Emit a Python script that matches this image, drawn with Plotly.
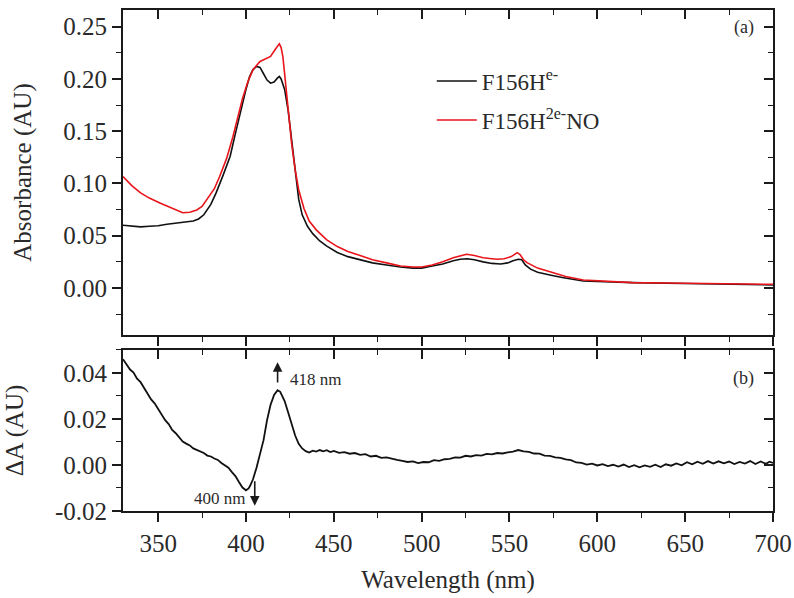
import plotly.graph_objects as go

# ---- Panel (a): absorbance spectra ----
wl_fe = [330, 335, 340, 345, 350, 355, 360, 365, 370, 373, 376, 380, 383, 387, 391, 394, 397, 400,
         402, 404, 406, 408, 410, 412, 414, 416, 418, 419, 420, 422, 424, 426, 428, 430, 432, 435,
         438, 442, 446, 452, 458, 465, 472, 480, 488, 495, 500, 506, 512, 518, 522, 526, 530, 535,
         540, 545, 549, 552, 555, 557, 559, 562, 566, 573, 580, 592, 605, 620, 640, 660, 680, 700]
abs_fe = [0.060, 0.0595, 0.0585, 0.059, 0.0595, 0.061, 0.062, 0.063, 0.064, 0.066, 0.070, 0.080,
          0.091, 0.108, 0.126, 0.148, 0.170, 0.190, 0.202, 0.209, 0.212, 0.211, 0.205, 0.199, 0.196,
          0.197, 0.201, 0.2024, 0.200, 0.190, 0.170, 0.140, 0.110, 0.085, 0.070, 0.059, 0.052, 0.045,
          0.040, 0.034, 0.030, 0.027, 0.024, 0.022, 0.020, 0.019, 0.019, 0.021, 0.023, 0.026, 0.0275,
          0.028, 0.027, 0.025, 0.0235, 0.023, 0.024, 0.026, 0.0275, 0.027, 0.022, 0.018, 0.015,
          0.0125, 0.010, 0.0067, 0.0058, 0.0051, 0.0045, 0.004, 0.0035, 0.003]

wl_no = [330, 335, 340, 345, 351, 357, 364, 368, 372, 375, 378, 382, 385, 389, 392.6, 395, 398, 401,
         404, 408, 411, 414, 416.5, 419, 420, 421, 422, 424, 426, 428, 430, 433, 436, 440, 446, 452,
         458, 465, 472, 480, 488, 495, 500, 506, 512, 518, 522, 525.6, 530, 535, 540, 543, 547, 551,
         554.4, 556, 558, 560, 566, 573, 582, 592, 605, 620, 640, 660, 680, 700]
abs_no = [0.1066, 0.098, 0.091, 0.086, 0.0814, 0.077, 0.072, 0.0725, 0.0747, 0.078, 0.085, 0.095,
          0.1066, 0.124, 0.145, 0.162, 0.181, 0.197, 0.209, 0.2167, 0.219, 0.2215, 0.228, 0.2337,
          0.230, 0.2215, 0.205, 0.168, 0.138, 0.113, 0.094, 0.076, 0.064, 0.0556, 0.046, 0.0396,
          0.035, 0.031, 0.027, 0.024, 0.021, 0.020, 0.020, 0.022, 0.025, 0.029, 0.031, 0.0323, 0.031,
          0.029, 0.028, 0.0275, 0.028, 0.030, 0.0338, 0.032, 0.027, 0.0242, 0.019, 0.0156, 0.011,
          0.0077, 0.0062, 0.0051, 0.0048, 0.0044, 0.004, 0.0035]

# ---- Panel (b): difference spectrum ----
wl_diff = [330, 332, 334, 336, 338, 340, 342, 344, 346, 348, 350, 352, 354, 356, 358, 360, 362, 364,
           366, 368, 370, 372, 374, 376, 378, 380, 382, 384, 386, 388, 390, 392, 394, 396, 398, 400,
           401.5, 402.5, 404, 406, 408, 410, 412, 414, 416, 418, 419.5, 420.5, 422, 423.5, 425, 426.5,
           428, 430, 432, 434, 436, 438, 440, 442, 444, 446, 448, 450, 453, 456, 459, 462, 465, 468,
           471, 474, 477, 480, 483, 486, 489, 492, 495, 498, 501, 504, 507, 510, 513, 516, 519, 522,
           525, 528, 531, 534, 537, 540, 543, 546, 549, 552, 555, 558, 561, 564, 567, 570, 573, 576,
           579, 582, 585, 588, 591, 594, 597, 600, 603, 606, 609, 612, 615, 618, 621, 624, 627, 630,
           633, 636, 639, 642, 645, 648, 651, 654, 657, 660, 663, 666, 669, 672, 675, 678, 681, 684,
           687, 690, 693, 696, 698, 700]
delta_a = [0.046, 0.044, 0.0415, 0.0402, 0.0375, 0.036, 0.0335, 0.031, 0.0285, 0.0268, 0.0245,
           0.0222, 0.0195, 0.0178, 0.0152, 0.0138, 0.0118, 0.0102, 0.0093, 0.0085, 0.0072, 0.0066,
           0.0058, 0.0052, 0.0041, 0.0037, 0.0028, 0.0022, 0.0009, -0.0002, -0.0012, -0.0031,
           -0.0048, -0.0074, -0.0098, -0.011, -0.0102, -0.0088, -0.0062, -0.0012, 0.0048, 0.0108,
           0.0195, 0.0262, 0.0305, 0.0325, 0.0318, 0.0302, 0.0278, 0.0241, 0.0205, 0.0170, 0.0128,
           0.0092, 0.0072, 0.0060, 0.0054, 0.0062, 0.0058, 0.0065, 0.0059, 0.0064, 0.0056, 0.0061,
           0.0053, 0.0056, 0.0049, 0.0052, 0.0044, 0.0047, 0.0037, 0.0040, 0.0031, 0.0033, 0.0026,
           0.0022, 0.0018, 0.0013, 0.0016, 0.0008, 0.0013, 0.0012, 0.0021, 0.0018, 0.0025, 0.0027,
           0.0033, 0.0032, 0.0040, 0.0037, 0.0043, 0.0041, 0.0048, 0.0046, 0.0052, 0.0050, 0.0055,
           0.0058, 0.0065, 0.0059, 0.0057, 0.0050, 0.0049, 0.0041, 0.0040, 0.0033, 0.0031, 0.0024,
           0.0021, 0.0011, 0.0009, 0.0002, 0.0006, -0.0002, 0.0004, -0.0005, 0.0001, -0.0007,
           0.0002, -0.0009, -0.0001, -0.0010, -0.0002, -0.0008, 0.0001, -0.0009, 0.0003, -0.0003,
           0.0007, -0.0001, 0.0012, 0.0003, 0.0014, 0.0005, 0.0017, 0.0006, 0.0016, 0.0007, 0.0015,
           0.0004, 0.0013, 0.0006, 0.0017, 0.0004, 0.0015, 0.0005, 0.0014, 0.0009]

series_names = ["F156H<sup>e-</sup>", "F156H<sup>2e-</sup>NO"]
series_colors = ["#111111", "#e8151b"]

x_range = [330, 700]
x_ticks = [350, 400, 450, 500, 550, 600, 650, 700]
y_top_range = [-0.045, 0.266]
y_top_ticks = [0.00, 0.05, 0.10, 0.15, 0.20, 0.25]
y_bot_range = [-0.02, 0.05]
y_bot_ticks = [-0.02, 0.00, 0.02, 0.04]

peak_up_nm = 418
peak_down_nm = 400

FONT = "Liberation Serif"
TXT = "#2a2a2a"
LINE = "#1a1a1a"


def fmt(v):
    # plain hyphen for negative labels
    return f"{v:.2f}".replace("\u2212", "-")


fig = go.Figure()

fig.add_trace(go.Scatter(x=wl_fe, y=abs_fe, mode="lines", name=series_names[0],
                         legendgroup="a", line=dict(color=series_colors[0], width=1.6),
                         xaxis="x", yaxis="y"))
fig.add_trace(go.Scatter(x=wl_no, y=abs_no, mode="lines", name=series_names[1],
                         legendgroup="b", line=dict(color=series_colors[1], width=1.6),
                         xaxis="x", yaxis="y"))
fig.add_trace(go.Scatter(x=wl_diff, y=delta_a, mode="lines", showlegend=False,
                         line=dict(color="#111111", width=1.8), xaxis="x2", yaxis="y2"))
# empty traces so the inward-tick companion axes get drawn
fig.add_trace(go.Scatter(x=[], y=[], showlegend=False, hoverinfo="skip", xaxis="x3", yaxis="y3"))
fig.add_trace(go.Scatter(x=[], y=[], showlegend=False, hoverinfo="skip", xaxis="x4", yaxis="y4"))

tickfont = dict(family=FONT, size=25, color=TXT)
top_dom = [0.3513, 1.0]
bot_dom = [0.0, 0.3214]


def frame_axis(**kw):
    base = dict(showline=True, linecolor=LINE, linewidth=2, mirror=True, showgrid=False,
                zeroline=False, tickcolor=LINE, tickwidth=1.6, ticklen=9, tickfont=tickfont,
                automargin=False)
    base.update(kw)
    return base


def inner_axis(**kw):
    base = dict(showline=False, showgrid=False, zeroline=False, ticks="inside",
                tickcolor=LINE, tickwidth=1.6, ticklen=9, showticklabels=False,
                automargin=False)
    base.update(kw)
    return base


x_minor = dict(dtick=25, ticklen=5, tickwidth=1.4, tickcolor=LINE, showgrid=False)

fig.update_layout(
    width=794, height=598,
    margin=dict(l=123, r=21, t=10, b=87, autoexpand=False),
    paper_bgcolor="white", plot_bgcolor="white",
    font=dict(family=FONT, color=TXT),
    xaxis=frame_axis(domain=[0, 1], anchor="y", range=x_range, tickvals=x_ticks, ticks="outside",
                     showticklabels=False, minor=dict(ticks="outside", **x_minor)),
    yaxis=frame_axis(domain=top_dom, anchor="x", range=y_top_range, tickvals=y_top_ticks,
                     ticktext=[fmt(v) for v in y_top_ticks], ticks="outside",
                     minor=dict(ticks="outside", dtick=0.025, tick0=0, ticklen=5, tickwidth=1.4,
                                tickcolor=LINE, showgrid=False),
                     title=dict(text="Absorbance (AU)", font=dict(family=FONT, size=25, color=TXT),
                                standoff=24)),
    xaxis2=frame_axis(domain=[0, 1], anchor="y2", range=x_range, tickvals=x_ticks, ticks="outside",
                      minor=dict(ticks="outside", **x_minor),
                      title=dict(text="Wavelength (nm)", font=dict(family=FONT, size=25, color=TXT),
                                 standoff=14)),
    yaxis2=frame_axis(domain=bot_dom, anchor="x2", range=y_bot_range, tickvals=y_bot_ticks,
                      ticktext=[fmt(v) for v in y_bot_ticks], ticks="outside",
                      minor=dict(ticks="outside", dtick=0.01, tick0=0, ticklen=5, tickwidth=1.4,
                                 tickcolor=LINE, showgrid=False),
                      title=dict(text="ΔA (AU)", font=dict(family=FONT, size=25, color=TXT),
                                 standoff=24)),
    xaxis3=inner_axis(overlaying="x", side="top", anchor="y", range=x_range, tickvals=x_ticks,
                      minor=dict(ticks="inside", **x_minor)),
    yaxis3=inner_axis(overlaying="y", side="right", anchor="x", range=y_top_range,
                      tickvals=y_top_ticks,
                      minor=dict(ticks="inside", dtick=0.025, tick0=0, ticklen=5, tickwidth=1.4,
                                 tickcolor=LINE, showgrid=False)),
    xaxis4=inner_axis(overlaying="x2", side="top", anchor="y2", range=x_range, tickvals=x_ticks,
                      minor=dict(ticks="inside", **x_minor)),
    yaxis4=inner_axis(overlaying="y2", side="right", anchor="x2", range=y_bot_range,
                      tickvals=y_bot_ticks,
                      minor=dict(ticks="inside", dtick=0.01, tick0=0, ticklen=5, tickwidth=1.4,
                                 tickcolor=LINE, showgrid=False)),
    legend=dict(x=0.475, y=0.901, xanchor="left", yanchor="top", bgcolor="rgba(0,0,0,0)",
                font=dict(family=FONT, size=23, color=TXT), tracegroupgap=6,
                itemwidth=40),
    showlegend=True,
)

ann_font = dict(family=FONT, size=17, color=TXT)
fig.add_annotation(text="(a)", x=0.955, y=0.965, xref="paper", yref="paper", showarrow=False,
                   xanchor="center", yanchor="middle", font=dict(family=FONT, size=18, color=TXT))
fig.add_annotation(text="(b)", x=0.955, y=0.265, xref="paper", yref="paper", showarrow=False,
                   xanchor="center", yanchor="middle", font=dict(family=FONT, size=18, color=TXT))

# arrow markers for the difference features
fig.add_annotation(x=peak_up_nm, y=0.0447, ax=peak_up_nm, ay=0.0352, xref="x2", yref="y2",
                   axref="x2", ayref="y2", text="", showarrow=True, arrowhead=2, arrowsize=1.2,
                   arrowwidth=1.6, arrowcolor=LINE)
fig.add_annotation(x=peak_up_nm + 6, y=0.0371, xref="x2", yref="y2", text=f"{peak_up_nm} nm",
                   showarrow=False, xanchor="left", yanchor="middle", font=ann_font)
fig.add_annotation(x=peak_down_nm + 5, y=-0.0177, ax=peak_down_nm + 5, ay=-0.0064, xref="x2",
                   yref="y2", axref="x2", ayref="y2", text="", showarrow=True, arrowhead=2,
                   arrowsize=1.2, arrowwidth=1.6, arrowcolor=LINE)
fig.add_annotation(x=peak_down_nm + 0.5, y=-0.0144, xref="x2", yref="y2", text=f"{peak_down_nm} nm",
                   showarrow=False, xanchor="right", yanchor="middle", font=ann_font)

fig.write_html("out.html")
